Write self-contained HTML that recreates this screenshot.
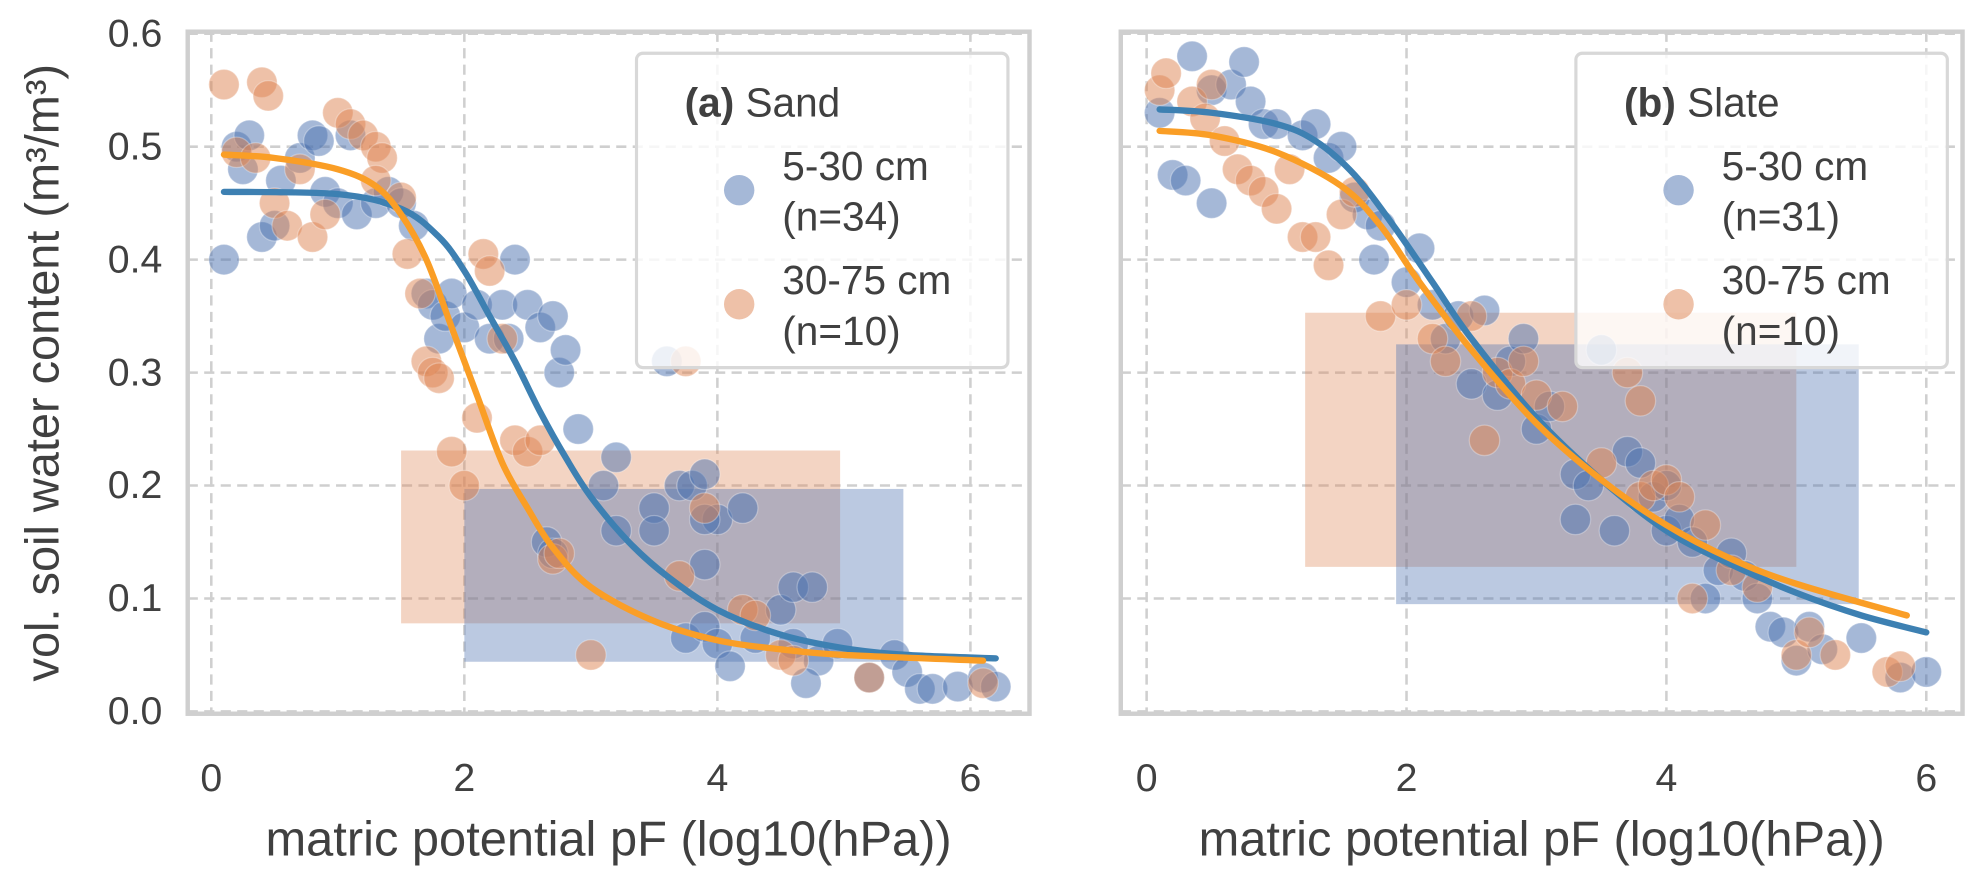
<!DOCTYPE html>
<html><head><meta charset="utf-8">
<style>
html,body{margin:0;padding:0;background:#fff;}
svg{display:block;font-family:"Liberation Sans",Arial,sans-serif;}
</style></head>
<body>
<svg id="chart" width="1988" height="876" viewBox="0 0 1568 691" xmlns="http://www.w3.org/2000/svg"></svg>
<script>
// ---- data ----
const xTicks = [0, 2, 4, 6];
const yTicks = [0.0, 0.1, 0.2, 0.3, 0.4, 0.5, 0.6];
const yTickLabels = ["0.0","0.1","0.2","0.3","0.4","0.5","0.6"];
const panelTitles = ["Sand", "Slate"];
const panelLetters = ["(a)", "(b)"];
const seriesNames = ["5-30 cm", "30-75 cm"];
const seriesCounts = [["(n=34)","(n=10)"],["(n=31)","(n=10)"]];

const sandTopPts = [[0.1,0.40],[0.2,0.50],[0.3,0.51],[0.25,0.48],[0.4,0.42],[0.5,0.43],[0.55,0.47],[0.7,0.49],[0.8,0.51],[0.85,0.505],[0.9,0.46],[1.0,0.45],[1.1,0.51],[1.15,0.44],[1.3,0.45],[1.4,0.46],[1.5,0.45],[1.6,0.43],[1.7,0.37],[1.75,0.36],[1.8,0.33],[1.85,0.35],[1.9,0.37],[2.0,0.34],[2.1,0.36],[2.2,0.33],[2.3,0.36],[2.35,0.33],[2.4,0.40],[2.5,0.36],[2.6,0.34],[2.7,0.35],[2.75,0.30],[2.8,0.32],[2.9,0.25],[3.1,0.20],[3.2,0.225],[3.5,0.18],[3.6,0.31],[3.7,0.20],[3.8,0.2],[3.9,0.21],[3.9,0.13],[4.0,0.17],[4.2,0.18],[3.2,0.16],[3.5,0.16],[3.75,0.065],[3.9,0.075],[4.0,0.06],[4.1,0.04],[4.3,0.065],[4.5,0.09],[4.6,0.11],[4.75,0.11],[4.6,0.06],[4.8,0.045],[4.95,0.06],[4.7,0.025],[5.2,0.03],[5.4,0.05],[5.5,0.035],[5.6,0.02],[5.7,0.02],[5.9,0.022],[6.1,0.03],[6.2,0.022],[3.9,0.17],[2.65,0.15],[2.7,0.14]];
const sandSubPts = [[0.1,0.555],[0.4,0.557],[0.45,0.545],[0.2,0.495],[0.35,0.49],[0.5,0.45],[0.6,0.43],[0.7,0.48],[0.8,0.42],[0.9,0.44],[1.0,0.53],[1.1,0.52],[1.2,0.51],[1.3,0.5],[1.35,0.49],[1.3,0.47],[1.5,0.455],[1.55,0.405],[1.65,0.37],[1.7,0.31],[1.75,0.30],[1.8,0.295],[1.9,0.23],[2.0,0.2],[2.1,0.26],[2.15,0.405],[2.2,0.39],[2.3,0.33],[2.4,0.24],[2.5,0.23],[2.6,0.24],[2.7,0.135],[2.75,0.14],[3.0,0.05],[3.7,0.12],[3.75,0.31],[3.9,0.18],[4.2,0.09],[4.5,0.05],[4.6,0.045],[5.2,0.03],[6.1,0.025],[4.3,0.085]];
const slateTopPts = [[0.1,0.53],[0.2,0.475],[0.3,0.47],[0.35,0.58],[0.5,0.55],[0.5,0.45],[0.65,0.555],[0.75,0.575],[0.8,0.54],[0.9,0.52],[1.0,0.52],[1.2,0.51],[1.3,0.52],[1.4,0.49],[1.5,0.5],[1.6,0.455],[1.7,0.44],[1.75,0.40],[1.8,0.43],[2.0,0.38],[2.1,0.41],[2.2,0.36],[2.3,0.33],[2.4,0.35],[2.5,0.29],[2.6,0.355],[2.7,0.28],[2.8,0.31],[2.9,0.33],[3.0,0.25],[3.1,0.27],[3.3,0.21],[3.4,0.20],[3.5,0.32],[3.6,0.16],[3.7,0.23],[3.8,0.22],[3.9,0.19],[4.0,0.16],[4.1,0.17],[4.2,0.15],[4.3,0.10],[4.4,0.125],[4.5,0.14],[4.6,0.12],[4.7,0.1],[4.8,0.075],[4.9,0.07],[5.0,0.045],[5.1,0.075],[5.2,0.055],[5.5,0.065],[5.8,0.03],[6.0,0.035],[3.3,0.17],[4.0,0.2]];
const slateSubPts = [[0.1,0.55],[0.15,0.565],[0.35,0.54],[0.45,0.525],[0.5,0.555],[0.6,0.505],[0.7,0.48],[0.8,0.47],[0.9,0.46],[1.0,0.445],[1.1,0.48],[1.2,0.42],[1.3,0.42],[1.4,0.395],[1.5,0.44],[1.6,0.46],[1.8,0.35],[2.0,0.36],[2.2,0.33],[2.3,0.31],[2.5,0.35],[2.7,0.30],[2.8,0.29],[2.9,0.31],[3.0,0.28],[3.2,0.27],[3.5,0.22],[3.7,0.3],[3.8,0.275],[3.8,0.19],[3.9,0.2],[4.0,0.205],[4.1,0.19],[4.3,0.165],[4.5,0.125],[4.7,0.11],[5.0,0.05],[5.1,0.07],[5.3,0.05],[5.7,0.035],[5.8,0.04],[2.6,0.24],[4.2,0.1]];

const sandTopCurve = [[0.1,0.46],[1,0.458],[1.5,0.445],[1.8,0.42],[2,0.39],[2.2,0.35],[2.4,0.31],[2.6,0.265],[2.8,0.225],[3,0.19],[3.3,0.15],[3.6,0.12],[4,0.09],[4.5,0.068],[5,0.056],[5.5,0.05],[6.2,0.047]];
const sandSubCurve = [[0.1,0.493],[0.5,0.49],[1,0.48],[1.3,0.465],[1.5,0.44],[1.7,0.40],[1.9,0.34],[2.1,0.28],[2.3,0.22],[2.5,0.18],[2.7,0.145],[3,0.11],[3.5,0.08],[4,0.063],[4.5,0.055],[5,0.05],[6.1,0.045]];
const slateTopCurve = [[0.1,0.533],[0.5,0.53],[1,0.52],[1.3,0.505],[1.6,0.475],[1.9,0.43],[2.2,0.38],[2.5,0.33],[3,0.26],[3.5,0.205],[4,0.16],[4.5,0.13],[5,0.105],[5.5,0.085],[6,0.07]];
const slateSubCurve = [[0.1,0.514],[0.5,0.51],[1,0.495],[1.5,0.465],[1.8,0.43],[2.1,0.38],[2.5,0.32],[3,0.255],[3.5,0.205],[4,0.165],[4.5,0.135],[5,0.113],[5.85,0.085]];

// ranges: [xmin, xmax, ymin, ymax]
const sandTopRange = [2.0, 5.47, 0.044, 0.197];
const sandSubRange = [1.5, 4.97, 0.078, 0.231];
const slateTopRange = [1.92, 5.48, 0.095, 0.325];
const slateSubRange = [1.22, 5.0, 0.128, 0.353];

// ---- layout ----
const NS = "http://www.w3.org/2000/svg";
const svg = document.getElementById("chart");
const BLUE = "#4c72b0", ORANGE = "#dd8452", BLUE_LINE = "#3d80b2", ORANGE_LINE = "#fa9e26";
const TXT = "#404040";
const panels = [
  {left:148,right:812,x0:166.6,xs:99.8,pts:[sandTopPts,sandSubPts],curves:[sandTopCurve,sandSubCurve],rects:[sandSubRange,sandTopRange],legX:502,key:"sand"},
  {left:884,right:1548,x0:904.4,xs:102.5,pts:[slateTopPts,slateSubPts],curves:[slateTopCurve,slateSubCurve],rects:[slateSubRange,slateTopRange],legX:1243,key:"slate"}
];
const TOP = 25, BOTTOM = 563;
function yScale(v){ return 561.2 - v*891; }
function el(tag, attrs, parent){ const e=document.createElementNS(NS,tag); for(const k in attrs) e.setAttribute(k,attrs[k]); (parent||svg).appendChild(e); return e; }

panels.forEach((p,pi)=>{
  const xScale = v => p.x0 + v*p.xs;
  const g = el("g",{});
  
  
  xTicks.forEach(t=>{
    const l = el("line",{x1:xScale(t),x2:xScale(t),y1:TOP,y2:BOTTOM,stroke:"#cfcfcf","stroke-width":2,"stroke-dasharray":"8,5"},g);
    
    
    const tl = el("text",{x:xScale(t),y:624,"text-anchor":"middle","font-size":31,fill:TXT},g);
    tl.textContent = t;
    
    
  });
  yTicks.forEach((t,i)=>{
    const l = el("line",{x1:p.left,x2:p.right,y1:yScale(t),y2:yScale(t),stroke:"#cfcfcf","stroke-width":2,"stroke-dasharray":"8,5"},g);
    
    
    if(pi===0){
      const tl = el("text",{x:128,y:yScale(t)+10,"text-anchor":"end","font-size":31,fill:TXT},g);
      tl.textContent = yTickLabels[i];
      
      
    }
  });
  const rc = [ORANGE, BLUE];
  p.rects.forEach((r,ri)=>{
    const re = el("rect",{x:xScale(r[0]),y:yScale(r[3]),width:xScale(r[1])-xScale(r[0]),height:yScale(r[2])-yScale(r[3]),fill:rc[ri],"fill-opacity":ri===0?0.35:0.38},g);
    
    
  });
  const sc = [BLUE, ORANGE];
  p.pts.forEach((arr,si)=>{
    arr.forEach(pt=>{
      const c = el("circle",{cx:xScale(pt[0]),cy:yScale(pt[1]),r:12,fill:sc[si],"fill-opacity":0.5,stroke:"#fff","stroke-opacity":0.3,"stroke-width":1},g);
      
      
    });
  });
  const lc = [BLUE_LINE, ORANGE_LINE];
  p.curves.forEach((arr,ci)=>{
    const P = arr.map(a=>[xScale(a[0]),yScale(a[1])]);
    let d = "M"+P[0][0]+","+P[0][1];
    for(let i=0;i<P.length-1;i++){
      const p0=P[Math.max(0,i-1)],p1=P[i],p2=P[i+1],p3=P[Math.min(P.length-1,i+2)];
      const c1=[p1[0]+(p2[0]-p0[0])/6,p1[1]+(p2[1]-p0[1])/6];
      const c2=[p2[0]-(p3[0]-p1[0])/6,p2[1]-(p3[1]-p1[1])/6];
      d+=" C"+c1[0]+","+c1[1]+" "+c2[0]+","+c2[1]+" "+p2[0]+","+p2[1];
    }
    const path = el("path",{d:d,fill:"none",stroke:lc[ci],"stroke-width":5,"stroke-linecap":"round"},g);
    
    
  });
  const fr = el("rect",{x:p.left,y:TOP,width:p.right-p.left,height:BOTTOM-TOP,fill:"none",stroke:"#cfcfcf","stroke-width":3.5},g);
  
  
  const xl = el("text",{x:(p.left+p.right)/2,y:675,"text-anchor":"middle","font-size":38.5,fill:TXT},g);
  xl.textContent = "matric potential pF (log10(hPa))";
  
  
  const lg = el("g",{},g);
  
  
  const lx = p.legX;
  el("rect",{x:lx,y:42,width:293,height:248,rx:5,fill:"#fff","fill-opacity":0.8,stroke:"#d8d8d8","stroke-width":2.5},lg);
  const tt = el("text",{x:lx+38,y:92,"font-size":32,fill:TXT},lg);
  const b = document.createElementNS(NS,"tspan"); b.setAttribute("font-weight","bold"); b.textContent = panelLetters[pi]; tt.appendChild(b);
  const n = document.createElementNS(NS,"tspan"); n.textContent = " "+panelTitles[pi]; tt.appendChild(n);
  
  
  [0,1].forEach(si=>{
    const cy = si===0?150:240;
    const m = el("circle",{cx:lx+81,cy:cy,r:12,fill:sc[si],"fill-opacity":0.5},lg);
    
    
    const t1 = el("text",{x:lx+115,y:cy-8,"font-size":32,fill:TXT},lg);
    t1.textContent = seriesNames[si];
    
    
    const t2 = el("text",{x:lx+115,y:cy+32,"font-size":32,fill:TXT},lg);
    t2.textContent = seriesCounts[pi][si];
    
    
  });
});
const yl = el("text",{x:0,y:0,"text-anchor":"middle","font-size":37,fill:TXT,transform:"translate(46,294) rotate(-90)"});
yl.textContent = "vol. soil water content (m³/m³)";


</script>
</body></html>
